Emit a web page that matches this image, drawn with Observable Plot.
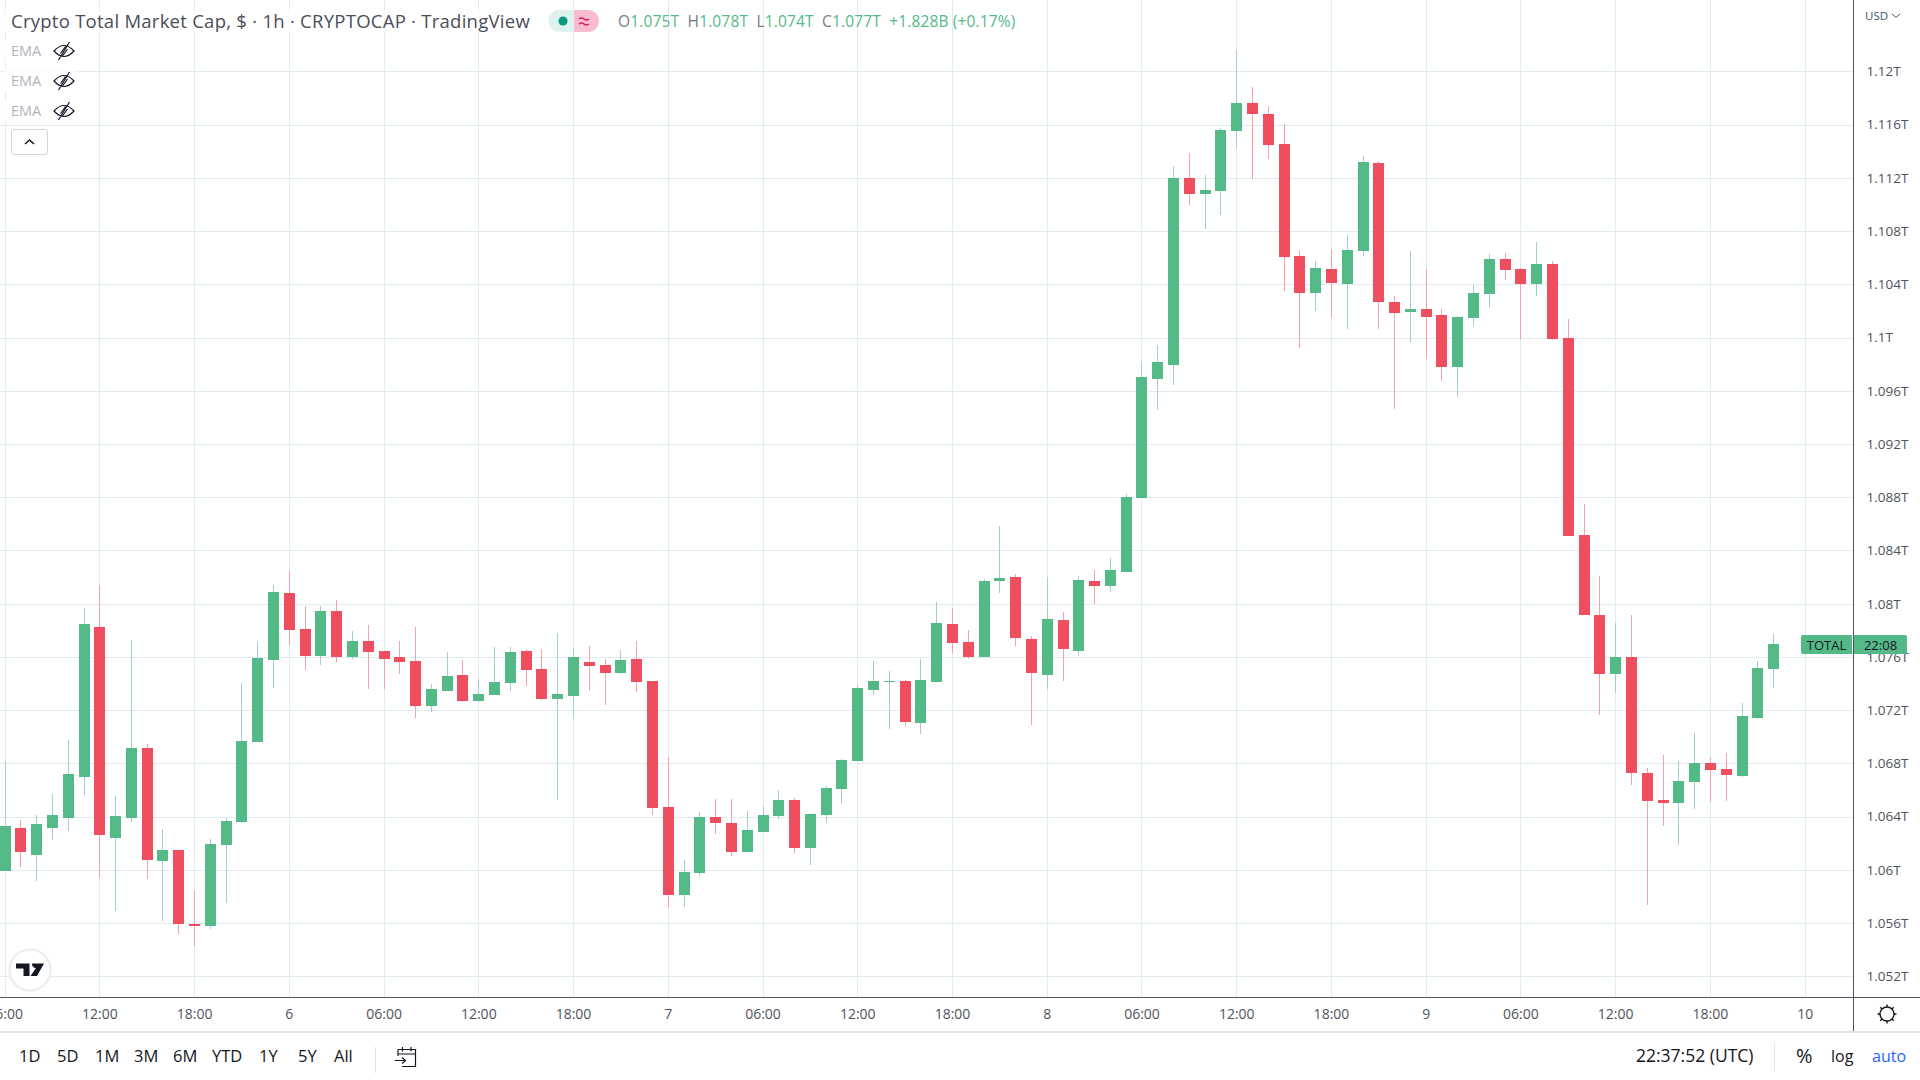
<!DOCTYPE html>
<html><head><meta charset="utf-8">
<script src="https://cdn.jsdelivr.net/npm/d3@7"></script>
<script src="https://cdn.jsdelivr.net/npm/@observablehq/plot@0.6"></script>
<style>
html,body{margin:0;padding:0;background:#fff;width:1920px;height:1080px;overflow:hidden;font-family:"Open Sans",sans-serif}
#wrap{position:relative;width:1920px;height:1080px;overflow:hidden}
#chart{position:absolute;left:0;top:0}
.t{position:absolute;white-space:nowrap;line-height:1}
.tool{font-size:16.500px;color:#131722;top:1048px}
.line{position:absolute;background:#50535e}
</style></head><body>
<div id="wrap"><div id="chart"></div>
<div class="line" style="left:1853px;top:0;width:1px;height:1031px"></div>
<div class="line" style="left:0;top:997px;width:1920px;height:1px"></div>
<div style="position:absolute;left:0;top:1031px;width:1920px;height:2px;background:#e0e3eb"></div>
<div style="position:absolute;left:375px;top:1047px;width:1px;height:26px;background:#e0e3eb"></div>
<div style="position:absolute;left:1774px;top:1043px;width:1px;height:28px;background:#e0e3eb"></div>
<div class="t" style="left:4px;top:10px;padding:2px 8px 2px 7px;background:rgba(255,255,255,.75);font-size:18.500px;letter-spacing:.26px;color:#4a4e59">Crypto Total Market Cap, $ · 1h · CRYPTOCAP · TradingView</div>
<svg style="position:absolute;left:549px;top:10px" width="50" height="22"><rect x="0" y="0" width="50" height="22" rx="11" fill="#f8bbd0"/><path d="M11 0H25V22H11A11 11 0 0 1 11 0Z" fill="#dff3ee"/><circle cx="14" cy="11" r="4.500" fill="#089981"/><path d="M30 9q2.500-2 5 0t5 0M30 14q2.500-2 5 0t5 0" stroke="#d81b60" stroke-width="1.600" fill="none"/></svg>
<div class="t" id="ohlc" style="left:618px;top:14px;font-size:15.500px;letter-spacing:.15px;color:#53b987"><span style="color:#787b86">O</span>1.075T <span style="color:#787b86">&nbsp;H</span>1.078T <span style="color:#787b86">&nbsp;L</span>1.074T <span style="color:#787b86">&nbsp;C</span>1.077T&nbsp; +1.828B (+0.17%)</div>
<div id="emas"></div>
<div style="position:absolute;left:11px;top:129px;width:35px;height:24px;border:1px solid #d1d4dc;border-radius:3px;background:#fff"><svg width="35" height="24"><path d="M13 14l4.500-4 4.500 4" stroke="#131722" stroke-width="1.600" fill="none"/></svg></div>
<svg style="position:absolute;left:8px;top:948px" width="44" height="44"><circle cx="22" cy="22" r="20.500" fill="#fff" stroke="#ececec" stroke-width="2"/><path d="M8 15.500H21.500V28H15.500V20.500H8ZM24 15.500H36L29 28H22.500L28 20A4 4 0 0 1 24 15.500Z" fill="#131722"/></svg>
<div class="t" style="left:1865px;top:10px;font-size:11.500px;color:#4a4e59">USD<svg width="10" height="8" style="margin-left:3px"><path d="M1 2l4 3.500 4-3.500" stroke="#50535e" fill="none"/></svg></div>
<div class="t" style="left:1801px;top:635px;width:51px;height:19px;background:#53b987;border-radius:2px 0 0 2px;font-size:13px;line-height:20px;text-align:center;color:#131722">TOTAL</div>
<div class="t" style="left:1854px;top:635px;width:53px;height:19px;background:#53b987;border-radius:0 2px 2px 0;font-size:13px;line-height:20px;text-align:center;color:#131722">22:08</div>
<div id="tools"></div>
<svg style="position:absolute;left:393px;top:1045px" width="24" height="24"><path d="M5 4.500H22.500V21.500H9M5 9H22.500M9.500 2V6.500M18 2V6.500M2 15.500H12M9 12.500L12.500 15.500 9 18.500M5 4.500V11" stroke="#131722" stroke-width="1.200" fill="none"/></svg>
<svg style="position:absolute;left:1875px;top:1002px" width="24" height="24" viewBox="0 0 24 24"><circle cx="12" cy="12" r="7" stroke="#131722" stroke-width="1.400" fill="none"/><path d="M12 2.500V5M12 19V21.500M2.500 12H5M19 12H21.500M5.300 5.300L7 7M17 17L18.700 18.700M5.300 18.700L7 17M17 7L18.700 5.300" stroke="#131722" stroke-width="1.400"/></svg>
<div class="t" style="left:1636px;top:1047px;font-size:17.500px;color:#131722">22:37:52 (UTC)</div>
<div class="t" style="left:1796px;top:1046px;font-size:20px;color:#131722">%</div>
<div class="t" style="left:1831px;top:1048px;font-size:16px;color:#131722">log</div>
<div class="t" style="left:1872px;top:1048px;font-size:16px;color:#2962ff">auto</div>
</div>
<script>
// Hourly candles, starting 06:00 on the 5th. Prices in billions of dollars.
const startHour = Date.UTC(2022, 7, 5, 6);
const opens = [1059.94,1063.15,1061.10,1063.15,1063.90,1066.98,1078.23,1062.40,1063.90,1069.15,1060.67,1061.49,1055.93,1055.78,1061.86,1063.59,1069.59,1075.77,1080.79,1078.10,1076.06,1079.45,1075.98,1077.20,1076.45,1075.98,1075.70,1072.31,1073.45,1074.64,1072.69,
1073.14,1074.04,1076.44,1075.09,1072.84,1073.06,1075.61,1075.39,1074.79,1075.84,1074.19,1064.73,1058.12,1059.77,1063.98,1063.53,1061.35,1062.85,1064.05,1065.25,1061.65,1064.13,1066.08,1068.18,1073.51,1074.11,1074.19,1071.04,1074.11,1078.47,
1077.12,1076.00,1081.71,1082.01,1077.35,1074.64,1078.78,1076.45,1081.71,1081.33,1082.39,
1087.95,1096.85,1097.97,1112.00,1110.80,1111.02,1115.52,1117.62,1116.80,1114.55,1106.15,1103.37,1105.17,1104.05,1106.52,1113.12,1102.70,1101.95,1102.17,1101.72,1097.82,1101.50,1103.30,1105.92,1105.17,1104.05,1105.55,
1099.95,1085.16,1079.13,1074.70,1075.97,1067.26,1065.24,1065.01,1066.59,1068.02,1067.57,1067.04,1071.39,1075.07];
const highs = [1068.17,1063.74,1064.11,1065.68,1069.75,1079.68,1081.39,1065.55,1077.27,1069.46,1063.07,1061.49,1058.49,1062.32,1063.90,1074.04,1077.12,1081.39,1082.45,1079.81,1079.81,1080.27,1077.95,1078.39,1076.45,1077.20,1078.23,1073.96,1076.37,1075.77,1074.33,
1076.74,1076.74,1076.59,1076.59,1077.79,1076.67,1076.82,1075.84,1076.52,1077.19,1074.19,1068.48,1060.75,1064.35,1065.33,1065.33,1064.43,1064.80,1066.00,1065.40,1064.20,1066.30,1068.33,1073.89,1075.69,1074.94,1074.27,1075.84,1080.12,1079.67,
1078.03,1081.86,1085.84,1082.24,1077.57,1082.01,1079.38,1082.09,1082.54,1083.44,1088.25,
1098.20,1099.47,1112.90,1113.87,1112.22,1115.75,1121.60,1118.82,1117.40,1116.05,1106.60,1105.77,1106.67,1107.72,1113.65,1113.27,1103.15,1106.52,1105.17,1102.17,1101.65,1103.97,1106.30,1106.37,1105.25,1107.20,1105.77,
1101.38,1087.50,1082.07,1078.52,1079.12,1067.64,1068.62,1068.17,1070.27,1068.47,1068.77,1072.52,1075.67,1077.70];
const lows = [1059.94,1060.20,1059.17,1062.24,1062.92,1065.63,1059.40,1056.91,1063.59,1059.32,1056.16,1055.18,1054.28,1055.54,1057.51,1063.51,1069.59,1073.65,1076.89,1075.02,1075.39,1075.62,1075.83,1073.57,1073.57,1074.71,1071.40,1071.87,1073.45,1072.62,1072.62,
1073.14,1073.44,1073.81,1072.76,1065.25,1071.34,1073.44,1072.39,1074.71,1073.36,1064.13,1057.14,1057.22,1059.55,1062.70,1061.05,1061.35,1062.85,1063.83,1061.27,1060.37,1063.53,1064.95,1068.18,1073.14,1070.59,1070.74,1070.21,1074.11,1076.29,
1075.85,1076.00,1080.81,1076.82,1070.88,1073.59,1074.19,1076.07,1079.98,1080.88,1082.39,
1087.95,1094.52,1096.40,1109.97,1108.17,1109.22,1114.17,1111.92,1113.42,1103.52,1099.25,1102.02,1101.50,1100.67,1106.15,1100.67,1094.60,1099.70,1098.42,1096.77,1095.50,1100.90,1102.25,1104.35,1099.92,1103.15,1099.85,
1085.09,1079.12,1071.62,1073.27,1066.36,1057.36,1063.29,1061.86,1064.56,1065.09,1065.16,1066.96,1071.32,1073.64];
const closes = [1063.30,1061.34,1063.43,1064.11,1067.21,1078.46,1062.61,1064.05,1069.15,1060.74,1061.49,1055.93,1055.78,1061.93,1063.67,1069.67,1075.90,1080.87,1078.03,1076.06,1079.45,1075.98,1077.20,1076.37,1075.83,1075.62,1072.31,1073.57,1074.56,1072.69,1073.21,
1074.11,1076.37,1075.01,1072.84,1073.21,1075.99,1075.32,1074.79,1075.77,1074.11,1064.65,1058.12,1059.85,1063.98,1063.53,1061.35,1063.00,1064.13,1065.25,1061.65,1064.20,1066.15,1068.25,1073.66,1074.19,1074.19,1071.11,1074.27,1078.54,1077.05,
1076.00,1081.71,1081.94,1077.42,1074.79,1078.85,1076.59,1081.79,1081.33,1082.54,1088.03,
1097.00,1098.13,1112.00,1110.80,1111.10,1115.60,1117.62,1116.80,1114.47,1106.07,1103.37,1105.25,1104.12,1106.60,1113.20,1102.70,1101.87,1102.17,1101.57,1097.82,1101.57,1103.37,1105.92,1105.10,1104.05,1105.55,1099.92,
1085.09,1079.12,1074.70,1075.97,1067.26,1065.16,1065.01,1066.66,1068.02,1067.49,1067.11,1071.54,1075.15,1076.95];

const priceTicks = [1052,1056,1060,1064,1068,1072,1076,1080,1084,1088,1092,1096,1100,1104,1108,1112,1116,1120];
const timeTickHours = [6,12,18,24,30,36,42,48,54,60,66,72,78,84,90,96,102,108,114,120];
const timeTickLabels = ["06:00","12:00","18:00","6","06:00","12:00","18:00","7","06:00","12:00","18:00","8","06:00","12:00","18:00","9","06:00","12:00","18:00","10"];
const emaRows = ["EMA","EMA","EMA"];
const rangeButtons = ["1D","5D","1M","3M","6M","YTD","1Y","5Y","All"];
const rangeLefts = [19,57,95,134,173,212,259,298,334];

const hourMs = 3600000;
const dayStart = Date.UTC(2022, 7, 5, 0);
const tickDates = timeTickHours.map(h => new Date(dayStart + h * hourMs));
const labelByTime = new Map(tickDates.map((d, i) => [+d, timeTickLabels[i]]));
const candles = opens.map((o, i) => ({time: new Date(startHour + i * hourMs), open: o, high: highs[i], low: lows[i], close: closes[i], up: closes[i] >= o}));
const up = candles.filter(d => d.up), down = candles.filter(d => !d.up);

const plot = Plot.plot({
  width: 1920, height: 1031,
  marginTop: 0, marginBottom: 34, marginLeft: 0, marginRight: 67,
  style: {background: "#fff", overflow: "hidden"},
  x: {type: "utc", domain: [new Date(dayStart + 5.711 * hourMs), new Date(dayStart + 123.06 * hourMs)], label: null},
  y: {type: "linear", domain: [1050.45, 1125.36], label: null},
  marks: [
    Plot.ruleY(priceTicks, {stroke: "#e1ecf2", strokeWidth: 1, shapeRendering: "crispEdges"}),
    Plot.ruleX(tickDates, {stroke: "#e1ecf2", strokeWidth: 1, shapeRendering: "crispEdges"}),
    Plot.ruleX(up, {x: "time", y1: "low", y2: "high", stroke: "#a5cdd0", strokeWidth: 1, shapeRendering: "crispEdges"}),
    Plot.ruleX(down, {x: "time", y1: "low", y2: "high", stroke: "#f7a1ad", strokeWidth: 1, shapeRendering: "crispEdges"}),
    Plot.ruleX(up, {x: "time", y1: "open", y2: "close", stroke: "#53b987", strokeWidth: 11, shapeRendering: "crispEdges"}),
    Plot.ruleX(down, {x: "time", y1: "open", y2: "close", stroke: "#ee4e5e", strokeWidth: 11, shapeRendering: "crispEdges"}),
    Plot.axisY({anchor: "right", ticks: priceTicks, tickSize: 0, tickPadding: 13, tickFormat: d => (d / 1000) + "T", fontSize: 13.5, fill: "#50535e", fontFamily: "Open Sans", label: null, textAnchor: "start"}),
    Plot.axisX({ticks: tickDates, tickSize: 0, tickPadding: 12, tickFormat: d => labelByTime.get(+d), fontSize: 14, fill: "#50535e", fontFamily: "Open Sans", label: null})
  ]
});
document.getElementById("chart").append(plot);

const eye = '<svg width="24" height="22" viewBox="0 0 24 22" style="position:absolute;left:41px;top:-4px"><path d="M2 11Q12 0 22 11Q12 22 2 11ZM6.500 20L17.500 2M8.500 13.500L13.500 6.500M10.500 16L15.500 9" stroke="#131722" stroke-width="1.200" fill="none"/></svg>';
document.getElementById("emas").innerHTML = emaRows.map((t, i) =>
  `<div class="t" style="left:4px;top:${40 + i * 30}px;width:74px;height:22px;background:rgba(255,255,255,.75)"></div><div class="t" style="left:11px;top:${44 + i * 30}px;font-size:14.500px;color:#b2b5be;width:70px">${t}${eye}</div>`).join("");
document.getElementById("tools").innerHTML = rangeButtons.map((t, i) =>
  `<div class="t tool" style="left:${rangeLefts[i]}px">${t}</div>`).join("");
</script>
</body></html>
